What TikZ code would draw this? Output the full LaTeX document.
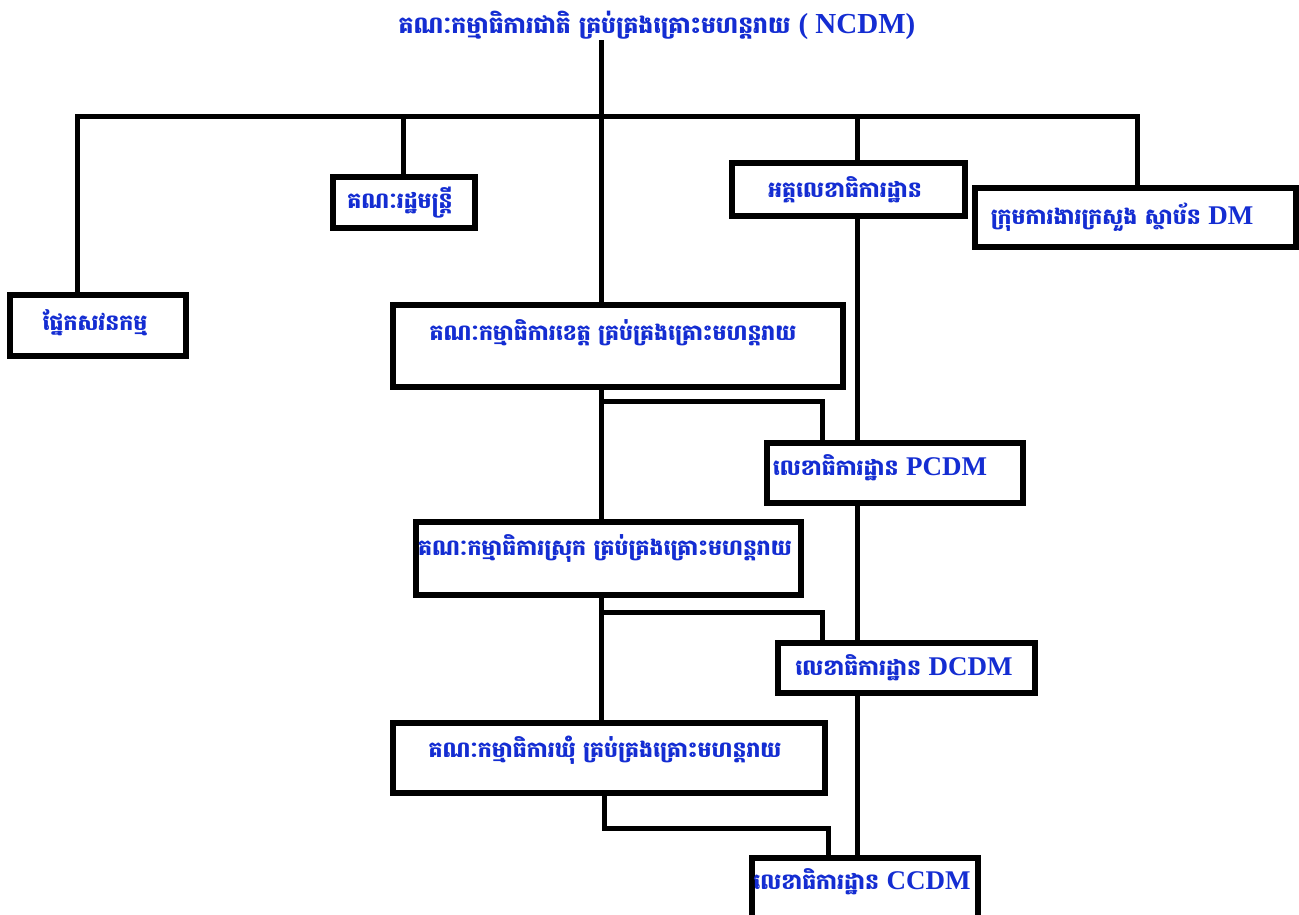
\documentclass[tikz,border=0pt]{standalone}
\usepackage{fontspec}
\newfontfamily\kh[Script=Khmer]{Battambang}
\newfontfamily\lat{Liberation Serif}
\definecolor{txtblue}{RGB}{20,45,210}
\tikzset{
  box/.style={draw=black, line width=6pt, fill=white, anchor=north west, inner sep=0pt},
  txt/.style={text=txtblue, font=\kh\bfseries\fontsize{22}{25}\selectfont, inner sep=0pt},
  ttl/.style={text=txtblue, font=\kh\bfseries\fontsize{23.5}{27}\selectfont, inner sep=1pt},
  conn/.style={line width=5pt, draw=black}
}
\newcommand{\latb}[1]{{\lat\bfseries\fontsize{27}{28}\selectfont #1}}
\newcommand{\latt}[1]{{\lat\bfseries\fontsize{29}{30}\selectfont #1}}
\begin{document}
\begin{tikzpicture}[x=1pt,y=-1pt]
\useasboundingbox (0,0) rectangle (1299,915);
% connector x positions
\coordinate (xa) at (77,0);
\coordinate (xb) at (403,0);
\coordinate (xc) at (601,0);
\coordinate (xd) at (857,0);
\coordinate (xe) at (1137,0);
\coordinate (xf) at (822,0);
\coordinate (xg) at (604,0);
\coordinate (xh) at (828,0);
\coordinate (bar) at (0,117);
\coordinate (br1) at (0,401);
\coordinate (br2) at (0,612);
\coordinate (br3) at (0,828);

% title
\node[ttl] (title) at (657,25) {គណៈកម្មាធិការជាតិ គ្រប់គ្រងគ្រោះមហន្តរាយ \latt{( NCDM)}};

% boxes (geometry only)
\node[box, minimum width=136pt, minimum height=45pt] (cab) at (333,177) {};
\node[box, minimum width=227pt, minimum height=47pt] (sg) at (732,163) {};
\node[box, minimum width=315pt, minimum height=53pt] (dm) at (975,188) {};
\node[box, minimum width=170pt, minimum height=55pt] (aud) at (10,295) {};
\node[box, minimum width=444pt, minimum height=76pt] (prov) at (393,305) {};
\node[box, minimum width=250pt, minimum height=54pt] (pcdm) at (767,443) {};
\node[box, minimum width=379pt, minimum height=67pt] (dist) at (416,522) {};
\node[box, minimum width=251pt, minimum height=44pt] (dcdm) at (778,643) {};
\node[box, minimum width=426pt, minimum height=64pt] (comm) at (393,723) {};
\node[box, minimum width=220pt, minimum height=56pt] (ccdm) at (752,858) {};

% connectors
\draw[conn] (title.south -| xc) -- (prov.north -| xc);
\draw[conn] (aud.north -| xa) -- (bar -| xa) -- (bar -| xe) -- (dm.north -| xe);
\draw[conn] (bar -| xb) -- (cab.north -| xb);
\draw[conn] (bar -| xd) -- (sg.north -| xd);
\draw[conn] (sg.south -| xd) -- (pcdm.north -| xd);
\draw[conn] (prov.south -| xc) -- (dist.north -| xc);
\draw[conn] (br1 -| xc) -- (br1 -| xf) -- (pcdm.north -| xf);
\draw[conn] (pcdm.south -| xd) -- (dcdm.north -| xd);
\draw[conn] (dist.south -| xc) -- (comm.north -| xc);
\draw[conn] (br2 -| xc) -- (br2 -| xf) -- (dcdm.north -| xf);
\draw[conn] (dcdm.south -| xd) -- (ccdm.north -| xd);
\draw[conn] (comm.south -| xg) -- (br3 -| xg) -- (br3 -| xh) -- (ccdm.north -| xh);

% redraw boxes on top of connectors
\foreach \b in {cab,sg,dm,aud,prov,pcdm,dist,dcdm,comm,ccdm}{
  \draw[line width=6pt, fill=white] (\b.north west) rectangle (\b.south east);
}

% texts
\node[txt] (tcab) at (400,203) {គណៈរដ្ឋមន្ត្រី};
\node[txt] (tsg) at (845,190) {អគ្គលេខាធិការដ្ឋាន};
\node[txt] (tdm) at (1122,217) {ក្រុមការងារក្រសួង ស្ថាប័ន \latb{DM}};
\node[txt] (taud) at (95,323) {ផ្នែកសវនកម្ម};
\node[txt] (tprov) at (613,333) {គណៈកម្មាធិការខេត្ត គ្រប់គ្រងគ្រោះមហន្តរាយ};
\node[txt] (tpcdm) at (880,468) {លេខាធិការដ្ឋាន \latb{PCDM}};
\node[txt] (tdist) at (605,549) {គណៈកម្មាធិការស្រុក គ្រប់គ្រងគ្រោះមហន្តរាយ};
\node[txt] (tdcdm) at (904,668) {លេខាធិការដ្ឋាន \latb{DCDM}};
\node[txt] (tcomm) at (605,750) {គណៈកម្មាធិការឃុំ គ្រប់គ្រងគ្រោះមហន្តរាយ};
\node[txt] (tccdm) at (862,882) {លេខាធិការដ្ឋាន \latb{CCDM}};
\end{tikzpicture}
\end{document}
